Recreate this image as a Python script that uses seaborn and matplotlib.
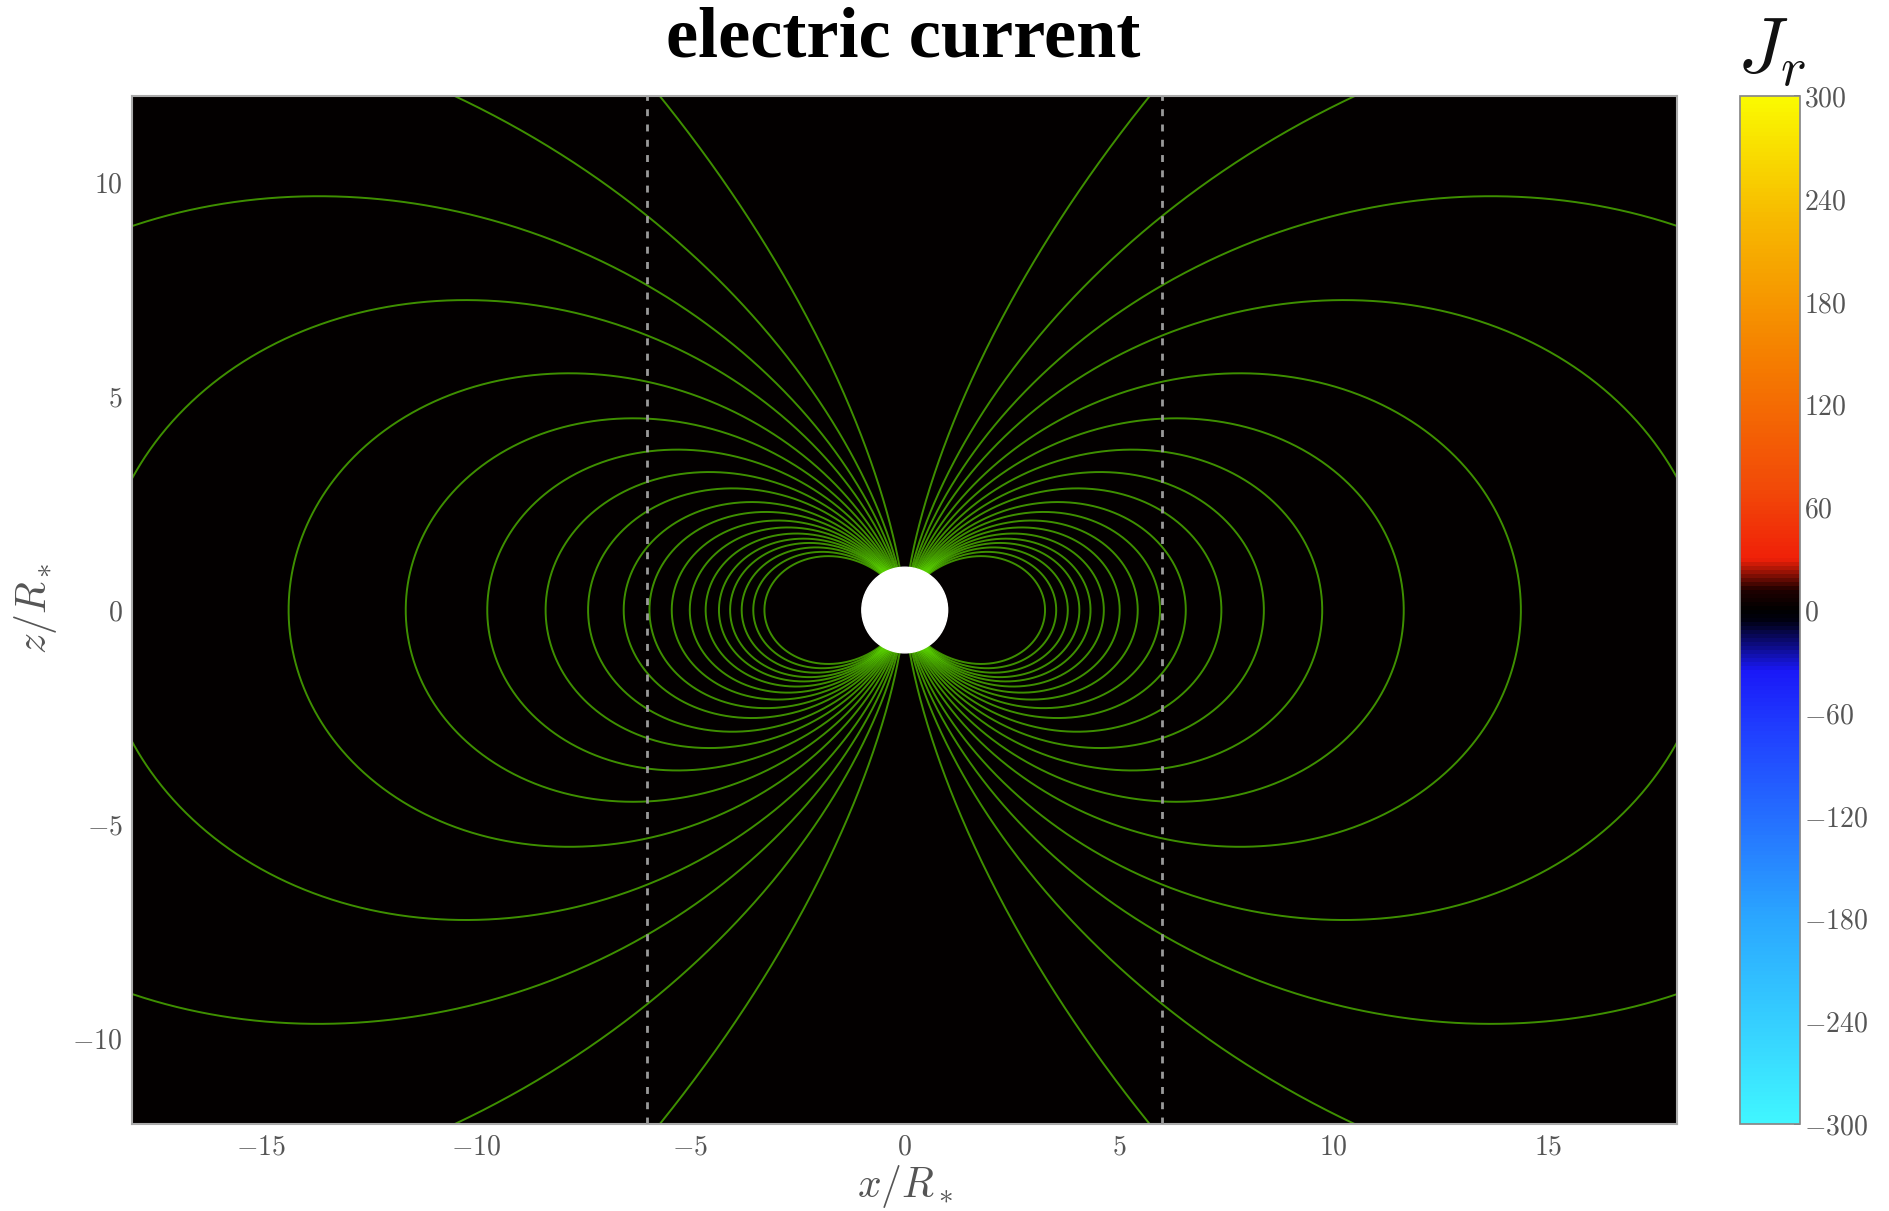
import numpy as np
import pandas as pd
import seaborn as sns
import matplotlib.pyplot as plt
from matplotlib.colors import LinearSegmentedColormap
from matplotlib.ticker import FuncFormatter

# field lines: equatorial crossing radius L (in R_*)
field_L = [3.27, 3.53, 3.80, 4.07, 4.33, 4.64, 5.01, 5.43, 5.95, 6.55,
           7.38, 8.37, 9.73, 11.63, 14.36, 18.8, 25.1, 36.8, 72.0]

# J_r is zero everywhere in this frame
x_edges = [-18, 18]
z_edges = [-12, 12]
jr = [[0.0]]

light_cylinder = [-6, 6]
star_radius = 1.0

cb_ticks = [-300, -240, -180, -120, -60, 0, 60, 120, 180, 240, 300]
x_ticks = [-15, -10, -5, 0, 5, 10, 15]
z_ticks = [-10, -5, 0, 5, 10]

sns.set_theme(style='white')
plt.rcParams['mathtext.fontset'] = 'cm'
plt.rcParams['font.family'] = ['DejaVu Serif']

# colormap: cyan -> blue -> black (0) -> red -> orange -> yellow
jr_cmap = LinearSegmentedColormap.from_list('jr', [
    (0.00, '#40f6ff'),
    (0.20, '#2aa6ff'),
    (0.38, '#2040ff'),
    (0.44, '#1a18f8'),
    (0.49, '#000010'),
    (0.50, '#000000'),
    (0.52, '#200000'),
    (0.55, '#f02008'),
    (0.62, '#f24a08'),
    (0.75, '#f58000'),
    (0.88, '#f7b800'),
    (1.00, '#fafa00'),
])

# build field line table  r = L sin^2(theta)
rows = []
for i, L in enumerate(field_L):
    th0 = np.arcsin(np.sqrt(1.0 / L))
    th = np.linspace(th0, np.pi - th0, 1500)
    r = L * np.sin(th) ** 2
    for side in (1, -1):
        rows.append(pd.DataFrame({'x': side * r * np.sin(th),
                                  'z': r * np.cos(th),
                                  'line': f'{i}_{side}'}))
lines = pd.concat(rows, ignore_index=True)

fig = plt.figure(figsize=(18.89, 12.11), dpi=100)
ax = fig.add_axes([0.0701, 0.0718, 0.8177, 0.8489])
cax = fig.add_axes([0.9211, 0.0718, 0.0318, 0.8489])

mesh = ax.pcolormesh(x_edges, z_edges, np.array(jr), cmap=jr_cmap,
                     vmin=-300, vmax=300)

sns.lineplot(data=lines, x='x', y='z', units='line', estimator=None,
             sort=False, color='#66f000', alpha=0.6, lw=1.4, ax=ax,
             legend=False)

for xl in light_cylinder:
    ax.axvline(xl, color='#9a9a9a', ls=(0, (2.5, 3)), lw=2, zorder=3)

ax.add_patch(plt.Circle((0, 0), star_radius, color='white', zorder=5))

ax.set_xlim(-18, 18)
ax.set_ylim(-12, 12)
ax.set_xticks(x_ticks)
ax.set_yticks(z_ticks)
fmt = FuncFormatter(lambda v, p: f'${v:g}$')
ax.xaxis.set_major_formatter(fmt)
ax.yaxis.set_major_formatter(fmt)
ax.tick_params(direction='in', length=6, color='k', labelsize=20,
               labelcolor='#555555', pad=7)
ax.set_xlabel('')
ax.set_ylabel('')
for s in ax.spines.values():
    s.set_color('#aaaaaa')
    s.set_linewidth(1.5)

cb = fig.colorbar(mesh, cax=cax, ticks=cb_ticks)
cb.ax.yaxis.set_major_formatter(fmt)
cb.ax.tick_params(direction='in', length=4, color='#555555', labelsize=20,
                  labelcolor='#555555', pad=3)
cb.outline.set_edgecolor('#888888')

fig.text(0.479, 0.020, '$x/R_*$', ha='center', va='center', fontsize=30,
         color='#555555')
fig.text(0.019, 0.498, '$z/R_*$', ha='center', va='center', fontsize=30,
         color='#555555', rotation=90)
fig.text(0.9375, 0.958, '$J_r$', ha='center', va='center', fontsize=56,
         color='#111111')
fig.text(0.478, 0.953, 'electric current', ha='center', va='baseline',
         fontsize=52, fontweight='bold', family='Liberation Serif',
         color='black')

fig.savefig('out.png', dpi=100)
